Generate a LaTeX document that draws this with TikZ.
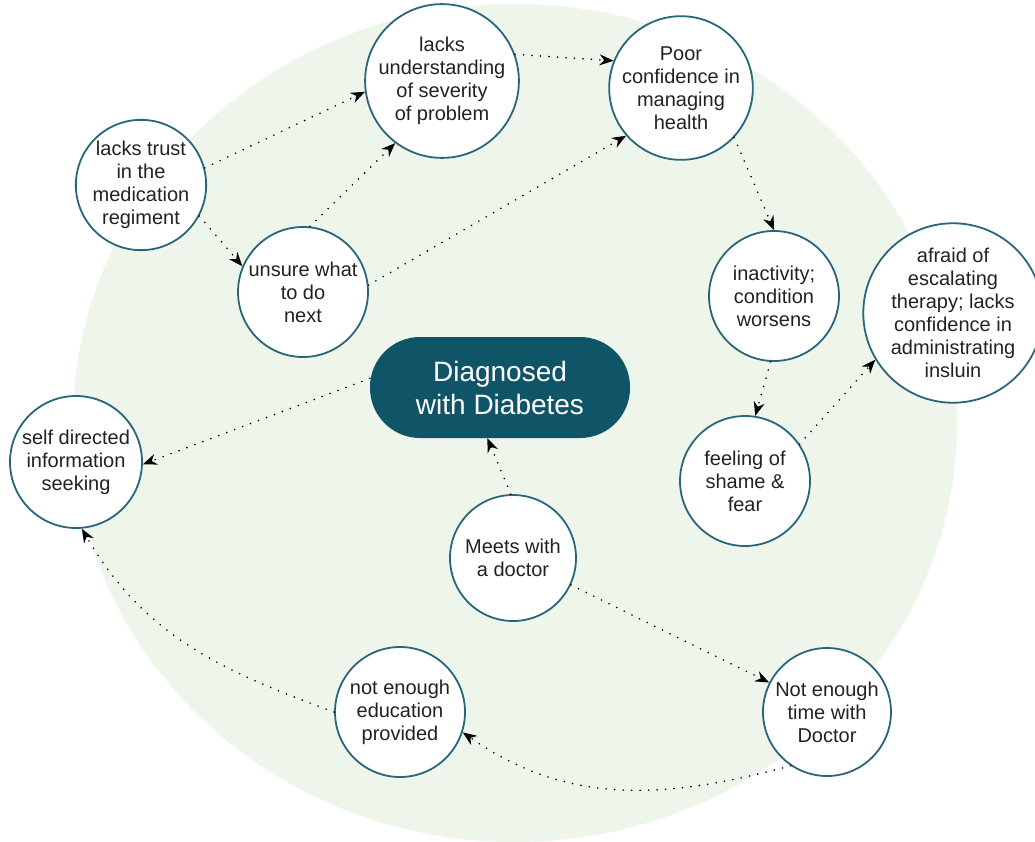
\documentclass[tikz,border=0pt]{standalone}
\usepackage{fontspec}
\setmainfont{Liberation Sans}
\usepackage{tikz}
\usetikzlibrary{arrows.meta}

\definecolor{bggreen}{RGB}{238,245,234}
\definecolor{ringteal}{RGB}{42,102,122}
\definecolor{coreteal}{RGB}{16,84,104}
\definecolor{txtgray}{RGB}{34,34,34}

\begin{document}
\begin{tikzpicture}[x=1pt, y=-1pt,
    issue/.style={circle, draw=ringteal, line width=1.8pt, fill=white,
                  inner sep=0pt, align=center, text=txtgray,
                  font=\fontsize{20}{23}\selectfont},
    core/.style={rectangle, rounded corners=50pt, fill=coreteal, text=white,
                 minimum width=260pt, minimum height=101pt, align=center,
                 font=\fontsize{28}{33}\selectfont},
    flow/.style={-{Stealth[length=14pt, width=11pt, inset=4.5pt]}, black,
                 line width=1.8pt, line cap=round, dash pattern=on 0pt off 8.5pt}]
  \useasboundingbox (0,0) rectangle (1035,842);
  \fill[bggreen] (515,423) ellipse [x radius=442, y radius=419];

  \node[core] (diag) at (500,387.5) {Diagnosed\\with Diabetes};
  \node[issue, minimum size=140pt] (under) at (442,81)  {lacks\\understanding\\of severity\\of problem};
  \node[issue, minimum size=128pt] (poor)  at (681,88)  {Poor\\confidence in\\managing\\health};
  \node[issue, minimum size=130pt] (trust) at (141,185) {lacks trust\\in the\\medication\\regiment};
  \node[issue, minimum size=130pt] (unsure) at (303,292) {unsure what\\to do\\next};
  \node[issue, minimum size=130pt] (inact) at (774,296) {inactivity;\\condition\\worsens};
  \node[issue, minimum size=166pt] (afraid) at (953,313) {afraid of\\escalating\\therapy; lacks\\confidence in\\administrating\\insluin};
  \node[issue, minimum size=132pt] (self)  at (76,462)  {self directed\\information\\seeking};
  \node[issue, minimum size=130pt] (shame) at (745,481) {feeling of\\shame \&\\fear};
  \node[issue, minimum size=126pt] (meet)  at (513,558) {Meets with\\a doctor};
  \node[issue, minimum size=128pt] (time)  at (827,712) {Not enough\\time with\\Doctor};
  \node[issue, minimum size=130pt] (edu)   at (400,712) {not enough\\education\\provided};

  \draw[flow] (trust.15) -- (under.188);
  \draw[flow] (trust.-28) -- (unsure.157);
  \draw[flow] (unsure.84) -- (under.233);
  \draw[flow] (unsure.6) -- (poor.221);
  \draw[flow] (under.20) -- (poor.158);
  \draw[flow] (poor.-43) -- (inact.90);
  \draw[flow] (inact.-93) -- (shame.81);
  \draw[flow] (shame.34) -- (afraid.211);
  \draw[flow] (diag.176) -- (self.-2);
  \draw[flow] (meet.92) -- (diag.256);
  \draw[flow] (meet.-25) -- (time.153);
  \draw[flow] (time.236) to[out=195, in=-35] (edu.-18);
  \draw[flow] (edu.180) to[out=160, in=-60] (self.-85);
\end{tikzpicture}
\end{document}
